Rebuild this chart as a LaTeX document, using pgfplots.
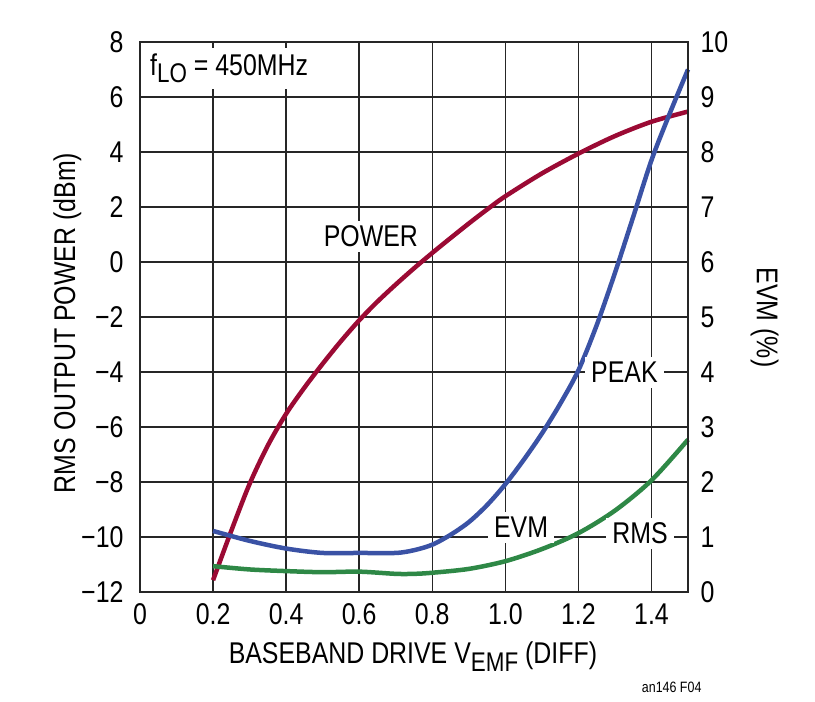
\documentclass[border=0pt]{standalone}
\usepackage{fontspec}
\setmainfont{Liberation Sans}[FakeStretch=0.83]
\usepackage{pgfplots}
\pgfplotsset{compat=1.18}
\definecolor{powred}{HTML}{9B0A34}
\definecolor{evmblue}{HTML}{3A52A5}
\definecolor{evmgreen}{HTML}{2E8846}
\newcommand{\bigf}{\fontsize{30}{34}\selectfont}
\begin{document}
\begin{tikzpicture}
\useasboundingbox (-140pt,-110pt) rectangle (675pt,592pt);
\begin{axis}[
  at={(0pt,0pt)}, anchor=south west,
  scale only axis, width=548pt, height=550pt,
  xmin=0, xmax=1.5, ymin=-12, ymax=8,
  xtick={0,0.2,0.4,0.6,0.8,1.0,1.2,1.4},
  xticklabels={0,0.2,0.4,0.6,0.8,1.0,1.2,1.4},
  ytick={-12,-10,-8,-6,-4,-2,0,2,4,6,8},
  yticklabels={−12,−10,−8,−6,−4,−2,0,2,4,6,8},
  grid=major, major grid style={line width=1.5pt, black!85},
  axis line style={line width=2.8pt, black!85},
  tick style={draw=none},
  xticklabel style={font=\bigf, yshift=-8pt},
  yticklabel style={font=\bigf, xshift=-13pt},
  clip=false,
]
\addplot[powred, line width=4.5pt, smooth] coordinates {
(0.2,-11.57) (0.25,-9.77) (0.3,-8.07) (0.35,-6.67) (0.4,-5.52) (0.45,-4.57) (0.5,-3.7)
(0.55,-2.88) (0.6,-2.12) (0.65,-1.44) (0.7,-0.82) (0.75,-0.23) (0.8,0.33) (0.85,0.87)
(0.9,1.4) (0.95,1.91) (1.0,2.39) (1.1,3.22) (1.2,3.94) (1.3,4.58) (1.4,5.1) (1.5,5.47)};
% EVM in %: dBm = 2*EVM - 12
\addplot[evmblue, line width=4.5pt, smooth] table[x=x, y expr=2*\thisrow{e}-12] {
x e
0.2 1.11
0.3 0.93
0.4 0.79
0.5 0.71
0.6 0.71
0.7 0.71
0.75 0.76
0.8 0.86
0.85 1.04
0.9 1.27
0.95 1.58
1.0 1.96
1.05 2.40
1.1 2.88
1.15 3.42
1.2 4.03
1.25 4.85
1.3 5.8
1.35 6.82
1.4 7.85
1.45 8.7
1.5 9.5
};
\addplot[evmgreen, line width=4.5pt, smooth] table[x=x, y expr=2*\thisrow{e}-12] {
x e
0.2 0.47
0.3 0.41
0.4 0.38
0.5 0.36
0.6 0.37
0.7 0.33
0.75 0.33
0.8 0.35
0.9 0.42
1.0 0.56
1.1 0.78
1.2 1.07
1.3 1.48
1.4 2.03
1.5 2.77
};
\node[fill=white, inner xsep=6pt, inner ysep=5pt, font=\bigf] at (axis cs:0.632,0.93) {POWER};
\node[fill=white, inner xsep=6pt, inner ysep=5pt, font=\bigf] at (axis cs:1.326,-4.02) {PEAK};
\node[fill=white, inner xsep=6pt, inner ysep=5pt, font=\bigf] at (axis cs:1.043,-9.66) {EVM};
\node[fill=white, inner xsep=6pt, inner ysep=5pt, font=\bigf] at (axis cs:1.369,-9.86) {RMS};
\node[fill=white, anchor=base west, inner xsep=6pt, inner ysep=6pt, font=\bigf] at (axis cs:0.011,6.79) {f\raisebox{-7pt}{\fontsize{27}{27}\selectfont LO} = 450MHz};
\node[anchor=base, font=\bigf] at (axis description cs:0.498,-0.1309) {BASEBAND DRIVE V\raisebox{-8pt}{\fontsize{27}{27}\selectfont EMF} (DIFF)};
\node[anchor=base, rotate=90, font=\bigf] at (axis description cs:-0.1186,0.489) {RMS OUTPUT POWER (dBm)};
\node[anchor=base, rotate=-90, font=\bigf] at (axis description cs:1.1259,0.499) {EVM (\%)};
\node[anchor=base east, font=\fontsize{15}{17}\selectfont] at (axis description cs:1.031,-0.1836) {an146 F04};
\end{axis}
\begin{axis}[
  at={(0pt,0pt)}, anchor=south west,
  scale only axis, width=548pt, height=550pt,
  xmin=0, xmax=1.5, ymin=0, ymax=10,
  axis x line=none, axis y line*=right,
  ytick={0,1,2,3,4,5,6,7,8,9,10},
  axis line style={line width=2.8pt, black!85, -},
  tick style={draw=none},
  yticklabel style={font=\bigf, xshift=9pt},
  /pgf/number format/assume math mode=true,
]
\end{axis}
\end{tikzpicture}
\end{document}
